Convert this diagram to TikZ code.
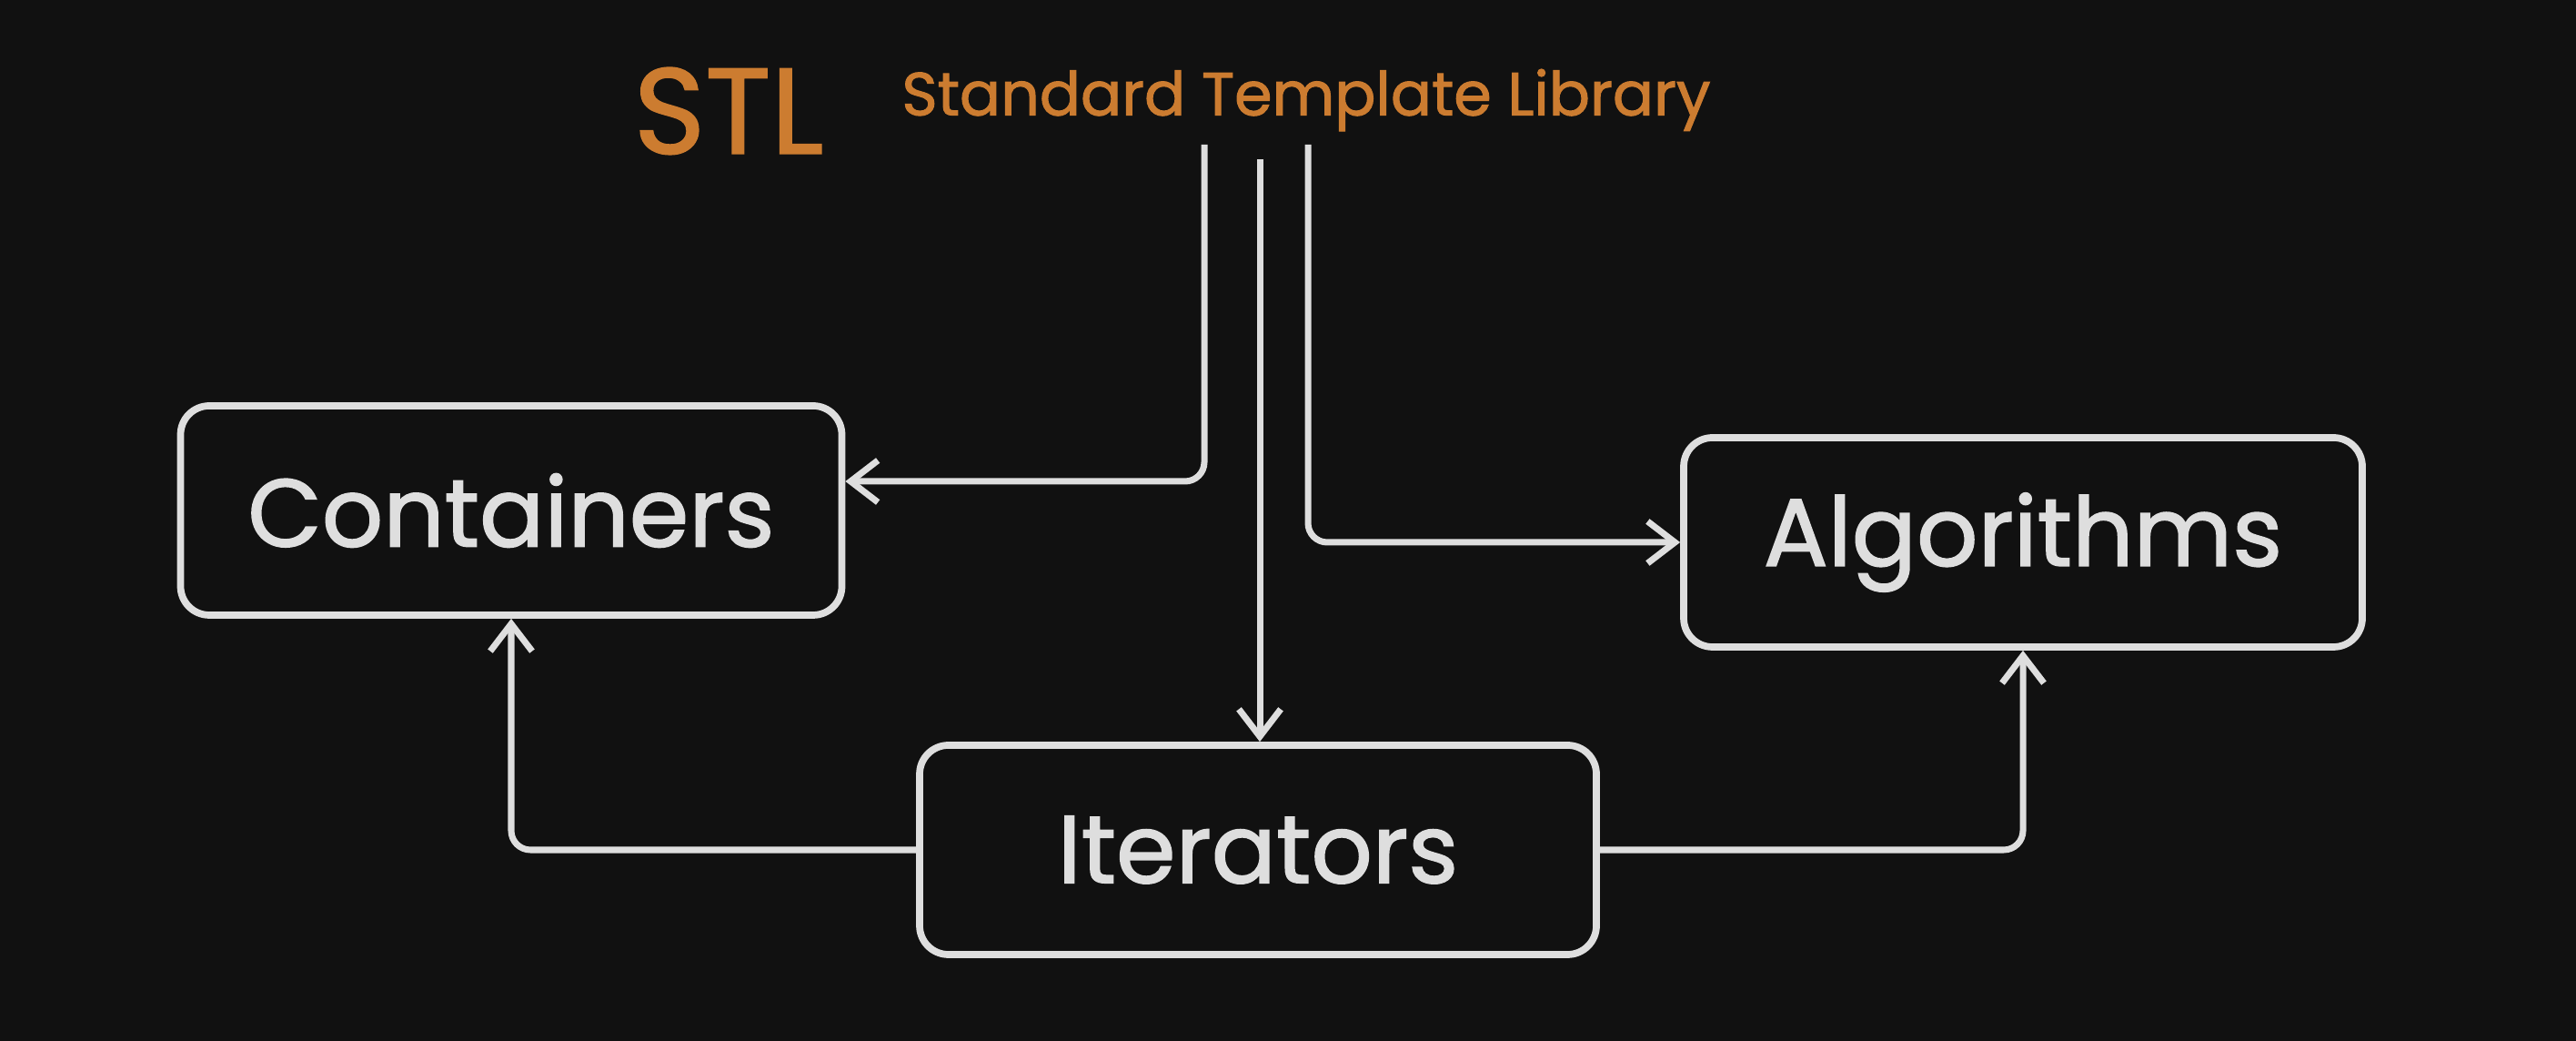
\documentclass[tikz,border=0pt]{standalone}
\usepackage{fontspec}
\setmainfont{Poppins}[UprightFeatures={FakeBold=1.5}]
\usetikzlibrary{arrows.meta}
\definecolor{bgdark}{RGB}{17,17,17}
\definecolor{chalk}{RGB}{222,222,222}
\definecolor{stlorange}{RGB}{204,124,48}
\tikzset{
  box/.style={draw=chalk, line width=2.2pt, rounded corners=9pt, text=chalk,
    minimum width=#1, minimum height=2.3cm, font=\fontsize{30}{30}\selectfont},
  link/.style={draw=chalk, line width=2pt, rounded corners=6pt,
    -{Straight Barb[length=3mm, width=4.6mm, line width=2pt]}}
}
\begin{document}
\begin{tikzpicture}
    \fill[bgdark] (0, 0) rectangle (28.32, 11.44);
    \useasboundingbox (0, 0) rectangle (28.32, 11.44);

    % title
    \node[text=stlorange, font=\fontsize{38}{38}\selectfont] (stl) at(8.01, 10.22){STL};
    \node[text=stlorange, font=\fontsize{19}{19}\selectfont] (stlname) at(14.36, 10.34){Standard Template Library};

    % boxes
    \node[box=7.27cm] (cont) at(5.62, 5.83){Containers};
    \node[box=7.46cm] (alg) at(22.24, 5.48){Algorithms};
    \node[box=7.44cm] (iter) at(13.83, 2.10){Iterators};

    % wire tops
    \coordinate (t1) at(13.24, 9.85);
    \coordinate (t2) at(13.85, 9.69);
    \coordinate (t3) at(14.38, 9.85);

        \draw[link] (t1) |- ([yshift=3.2mm]cont.east);
        \draw[link] (t2) -- (t2 |- iter.north);
        \draw[link] (t3) |- (alg.west);

        \draw[link] (iter.west) -| (cont.south);
        \draw[link] (iter.east) -| (alg.south);

\end{tikzpicture}
\end{document}
